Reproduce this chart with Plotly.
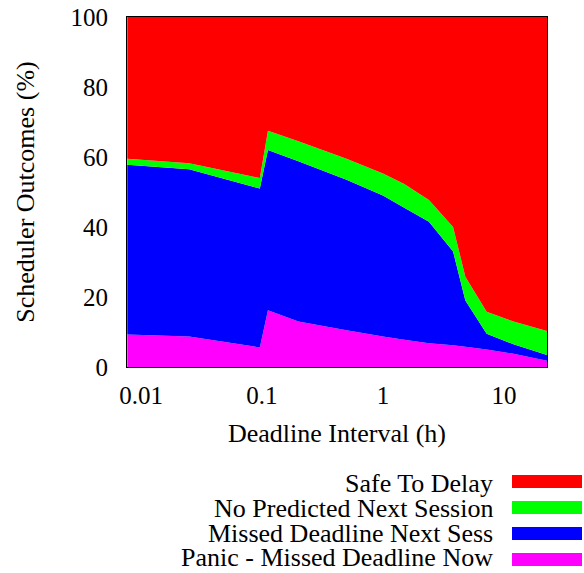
import plotly.graph_objects as go
import numpy as np

# Deadline interval (hours)
deadline_h = [0.0077, 0.025, 0.096, 0.112, 0.2, 0.5, 1.0, 1.5, 2.4, 3.8, 4.8, 7.2, 12, 22.7]
# Outcome shares (%) per series
panic_now = [9.3, 8.7, 5.6, 16.2, 13.0, 10.5, 8.7, 7.8, 6.8, 6.2, 5.8, 5.0, 3.8, 1.8]
missed_next = [48.5, 47.8, 45.4, 45.8, 45.8, 43.0, 40.3, 37.7, 34.7, 26.8, 13.2, 4.5, 2.7, 1.6]
no_predicted = [1.7, 1.7, 3.0, 5.5, 5.7, 6.0, 6.3, 6.8, 6.2, 7.0, 6.8, 6.3, 6.5, 6.9]
safe_delay = [40.5, 41.8, 46.0, 32.5, 35.5, 40.5, 44.7, 47.7, 52.3, 60.0, 74.2, 84.2, 87.0, 89.7]

series_names = ["Panic - Missed Deadline Now", "Missed Deadline Next Sess",
                "No Predicted Next Session", "Safe To Delay"]
series_vals = [panic_now, missed_next, no_predicted, safe_delay]
series_colors = ["#ff00ff", "#0000ff", "#00ff00", "#ff0000"]

x_ticks = [0.01, 0.1, 1, 10]
x_ticktext = ["0.01", "0.1", "1", "10"]
y_ticks = [0, 20, 40, 60, 80, 100]

FONT = "Liberation Serif"

fig = go.Figure()
for name, vals, col in zip(series_names, series_vals, series_colors):
    fig.add_trace(go.Scatter(
        x=deadline_h, y=vals, name=name, mode="none",
        stackgroup="one", fillcolor=col, line=dict(width=0),
        showlegend=False, hoverinfo="skip"))

# plot area in px: x 127..547, y 17..367
L, R, T, B = 127, 547, 17, 367
W, H = 584, 573

def px(x):
    return (x - L) / (R - L)

def py(y):
    return (B - y) / (B - T)

# custom legend (text left of swatch, right aligned)
legend_order = [3, 2, 1, 0]
text_y = [483, 508, 533, 557]
sw_top = [475, 501, 527, 553]
shapes = []
annotations = []
for k, idx in enumerate(legend_order):
    annotations.append(dict(
        xref="paper", yref="paper", x=px(495), y=py(text_y[k]),
        xanchor="right", yanchor="middle", showarrow=False,
        text=series_names[idx], font=dict(family=FONT, size=26, color="black")))
    shapes.append(dict(
        type="rect", xref="paper", yref="paper",
        x0=px(512), x1=px(582), y0=py(sw_top[k]), y1=py(sw_top[k] + 13),
        fillcolor=series_colors[idx], line=dict(width=0)))

fig.update_layout(
    width=W, height=H,
    margin=dict(l=L, r=W - R, t=T, b=H - B, pad=0, autoexpand=False),
    paper_bgcolor="white", plot_bgcolor="white",
    font=dict(family=FONT, size=25, color="black"),
    shapes=shapes, annotations=annotations,
    xaxis=dict(
        type="log", automargin=False,
        range=[np.log10(0.00766), np.log10(22.7)],
        tickvals=x_ticks, ticktext=x_ticktext,
        showgrid=False, zeroline=False,
        showline=True, linecolor="black", linewidth=1, mirror=True,
        ticks="", ticklabelstandoff=6,
        tickfont=dict(family=FONT, size=25),
        title=dict(text="Deadline Interval (h)", font=dict(family=FONT, size=26), standoff=15),
    ),
    yaxis=dict(
        range=[0, 100], tickvals=y_ticks, automargin=False,
        showgrid=False, zeroline=False,
        showline=True, linecolor="black", linewidth=1, mirror=True,
        ticks="", ticklabelstandoff=13,
        tickfont=dict(family=FONT, size=25),
        title=dict(text="Scheduler Outcomes (%)", font=dict(family=FONT, size=26), standoff=28),
    ),
)

fig.write_html("out.html",
               config={"displayModeBar": False},
               post_script="document.body.style.margin='0px';document.body.style.overflow='hidden';")
